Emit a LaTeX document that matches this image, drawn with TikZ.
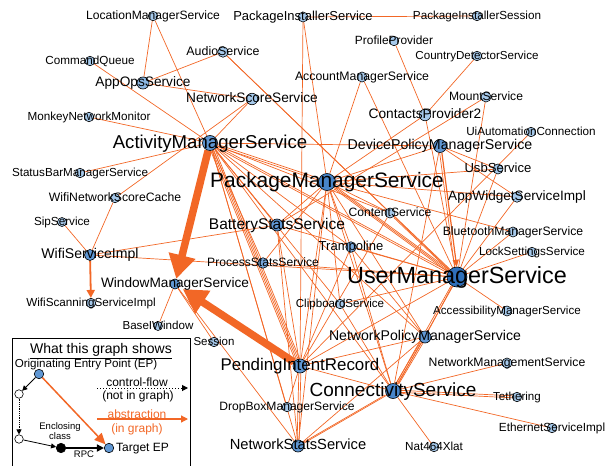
\documentclass[tikz,border=0pt]{standalone}
\usepackage{fontspec}
\setmainfont{Liberation Sans}
\usetikzlibrary{arrows.meta}
\pgfdeclarelayer{bg}
\pgfsetlayers{bg,main}
\definecolor{eorange}{RGB}{242,103,38}
\definecolor{lb}{RGB}{166,201,235}
\definecolor{lb2}{RGB}{140,184,228}
\definecolor{mb2}{RGB}{120,168,220}
\definecolor{mb}{RGB}{96,151,211}
\definecolor{db}{RGB}{72,133,202}
\definecolor{ub}{RGB}{48,112,186}
\tikzset{
  svc/.style={circle, draw=black, line width=0.6pt, fill=lb, minimum size=#1, inner sep=0pt},
  svc/.default=9.5pt,
  lbl/.style={font=\fontsize{#1}{#1}\selectfont, inner sep=0pt, anchor=base, yshift=-0.27*#1pt, text=black},
  lbl/.default=11.7,
  edge/.style={draw=eorange, line width=0.7pt},
  bigarrow/.style={draw=eorange, fill=eorange, line width=7.5pt, -{Triangle[length=24pt,width=26pt]}},
  midarrow/.style={draw=eorange, fill=eorange, line width=1.8pt, -{Triangle[length=8pt,width=8pt]}},
  smallarrow/.style={draw=eorange, fill=eorange, line width=1.2pt, -{Triangle[length=7pt,width=6pt]}},
  blk/.style={draw=black, line width=0.8pt, -{Triangle[length=5pt,width=5pt]}},
}
\begin{document}
\begin{tikzpicture}[x=1pt,y=-1pt]
\useasboundingbox (0,0) rectangle (609,465);
% ---------- service nodes ----------
\node[svc] (loc) at (153,16) {};
\node[svc=10pt] (pis) at (303,17) {};
\node[svc] (piss) at (477,16) {};
\node[svc] (cq) at (90,61) {};
\node[svc=10.5pt] (audio) at (223,52) {};
\node[svc] (prof) at (394,41) {};
\node[svc] (country) at (477,56) {};
\node[svc=12pt, fill=lb2] (appops) at (143,83) {};
\node[svc=10pt] (acct) at (362,77) {};
\node[svc=11.5pt] (nss) at (252,99) {};
\node[svc] (monkey) at (89,117) {};
\node[svc=10pt] (mount) at (486,97) {};
\node[svc=11.5pt] (cp2) at (425,115) {};
\node[svc] (uia) at (531,132) {};
\node[svc=15pt, fill=mb] (ams) at (210,143) {};
\node[svc=13pt, fill=mb] (dpms) at (440,146) {};
\node[svc=17pt, fill=db] (pms) at (327,182) {};
\node[svc] (sbm) at (80,173) {};
\node[svc=10pt] (usb) at (498,169) {};
\node[svc=10pt] (content) at (390,213) {};
\node[svc=10.5pt] (aws) at (517,197) {};
\node[svc] (wnsc) at (115,198) {};
\node[svc=12pt, fill=mb] (bss) at (277,225) {};
\node[svc=9pt] (sip) at (62,222) {};
\node[svc=10pt] (bt) at (513,232) {};
\node[svc=10.5pt, fill=mb2] (tramp) at (351,247) {};
\node[svc] (lock) at (532,252) {};
\node[svc=11pt, fill=mb] (wifi) at (90,255) {};
\node[svc=10.5pt, fill=mb2] (pss) at (263,263) {};
\node[svc=20pt, fill=ub] (ums) at (457,277) {};
\node[svc=10pt, fill=mb] (wms) at (175,284) {};
\node[svc] (wscan) at (91,303) {};
\node[svc] (clip) at (340,304) {};
\node[svc=10pt] (acc) at (507,311) {};
\node[svc=9pt] (biw) at (158,326) {};
\node[svc] (sess) at (214,342) {};
\node[svc=12pt, fill=mb] (npms) at (425,337) {};
\node[svc=14pt, fill=mb] (pir) at (300,366) {};
\node[svc=10pt] (nms) at (507,363) {};
\node[svc=15pt, fill=db] (cs) at (393,391) {};
\node[svc] (teth) at (517,397) {};
\node[svc] (drop) at (287,407) {};
\node[svc] (eth) at (552,428) {};
\node[svc=12pt, fill=mb] (nstats) at (298,446) {};
\node[svc] (nat) at (434,447) {};
% ---------- labels ----------
\node[lbl=12.1] (loc-t) at (loc) {LocationManagerService};
\node[lbl=13] (pis-t) at (pis) {PackageInstallerService};
\node[lbl] (piss-t) at (piss) {PackageInstallerSession};
\node[lbl] (cq-t) at (cq) {CommandQueue};
\node[lbl=12.4] (audio-t) at (audio) {AudioService};
\node[lbl=11.9] (prof-t) at (prof) {ProfileProvider};
\node[lbl=11.6] (country-t) at (country) {CountryDetectorService};
\node[lbl=13.7] (appops-t) at (appops) {AppOpsService};
\node[lbl=12.3] (acct-t) at (acct) {AccountManagerService};
\node[lbl=13.7] (nss-t) at (nss) {NetworkScoreService};
\node[lbl] (monkey-t) at (monkey) {MonkeyNetworkMonitor};
\node[lbl=12.1] (mount-t) at (mount) {MountService};
\node[lbl=13.7] (cp2-t) at (cp2) {ContactsProvider2};
\node[lbl] (uia-t) at (uia) {UiAutomationConnection};
\node[lbl=18.6] (ams-t) at (ams) {ActivityManagerService};
\node[lbl=14.2] (dpms-t) at (dpms) {DevicePolicyManagerService};
\node[lbl=20.9] (pms-t) at (pms) {PackageManagerService};
\node[lbl=11.65] (sbm-t) at (sbm) {StatusBarManagerService};
\node[lbl=13.1] (usb-t) at (usb) {UsbService};
\node[lbl=12.1] (content-t) at (content) {ContentService};
\node[lbl=13.6] (aws-t) at (aws) {AppWidgetServiceImpl};
\node[lbl=12.2] (wnsc-t) at (wnsc) {WifiNetworkScoreCache};
\node[lbl=15.5] (bss-t) at (bss) {BatteryStatsService};
\node[lbl] (sip-t) at (sip) {SipService};
\node[lbl=12.2] (bt-t) at (bt) {BluetoothManagerService};
\node[lbl=13] (tramp-t) at (tramp) {Trampoline};
\node[lbl] (lock-t) at (lock) {LockSettingsService};
\node[lbl=14.1] (wifi-t) at (wifi) {WifiServiceImpl};
\node[lbl=12.1] (pss-t) at (pss) {ProcessStatsService};
\node[lbl=23.4] (ums-t) at (ums) {UserManagerService};
\node[lbl=13.65] (wms-t) at (wms) {WindowManagerService};
\node[lbl] (wscan-t) at (wscan) {WifiScanningServiceImpl};
\node[lbl=11.6] (clip-t) at (clip) {ClipboardService};
\node[lbl=11.6] (acc-t) at (acc) {AccessibilityManagerService};
\node[lbl=11.6] (biw-t) at (biw) {BaseIWindow};
\node[lbl=11.5] (sess-t) at (sess) {Session};
\node[lbl=14.1] (npms-t) at (npms) {NetworkPolicyManagerService};
\node[lbl=16.9] (pir-t) at (pir) {PendingIntentRecord};
\node[lbl=12.2] (nms-t) at (nms) {NetworkManagementService};
\node[lbl=19] (cs-t) at (cs) {ConnectivityService};
\node[lbl=11.6] (teth-t) at (teth) {Tethering};
\node[lbl=12.1] (drop-t) at (drop) {DropBoxManagerService};
\node[lbl=11.8] (eth-t) at (eth) {EthernetServiceImpl};
\node[lbl=14.7] (nstats-t) at (nstats) {NetworkStatsService};
\node[lbl] (nat-t) at (nat) {Nat464Xlat};
% ---------- connectors ----------
\begin{pgfonlayer}{bg}
\foreach \a/\b in {loc/appops, loc/ams, cq/ams, audio/appops, audio/ums, audio/content,
  appops/nss, monkey/ams, nss/ams, sbm/ams, wnsc/nss, wifi/wnsc, sip/wifi, wifi/bss, wifi/ums,
  pis/piss, pis/pms, pis/pir, prof/cp2, country/cp2, acct/pms, acct/ums, mount/ums, mount/bss,
  cp2/pms, cp2/ums, uia/pir, dpms/aws, dpms/usb, dpms/pms, dpms/ams, dpms/cs,
  ams/bss, ams/pss, ams/content, ams/tramp, ams/clip, ams/npms, ams/cs, ams/nstats, ams/drop,
  pms/content, pms/bss, pms/tramp, pms/aws, pms/bt, pms/pir, pms/cs, pms/npms, pms/clip,
  pms/pss, pms/usb, pms/nstats, ums/aws, ums/bt, ums/lock, ums/usb, ums/acc, ums/npms,
  ums/pir, ums/clip, ums/tramp, ums/bss, ums/pss, wms/biw, wms/sess, wms/nstats,
  pir/bss, pir/tramp, pir/npms, pir/cs, pir/drop, pir/content, cs/nms, cs/eth, cs/nat,
  cs/tramp, cs/clip, npms/nstats, npms/tramp, bss/nstats}
  \draw[edge] (\a) -- (\b);
% parallel bundles
\foreach \s in {-2.4,-0.8,0.8,2.4}
  \draw[edge, transform canvas={xshift=\s pt}] (ams) -- (pir);
\foreach \s in {-1,1}{
  \draw[edge, transform canvas={yshift=\s pt}] (ams) -- (pms);
  \draw[edge, transform canvas={yshift=\s pt}] (ams) -- (ums);
  \draw[edge, transform canvas={xshift=\s pt}] (ums) -- (cs);
  \draw[edge, transform canvas={yshift=\s pt}] (ums) -- (content);
  \draw[edge, transform canvas={xshift=\s pt}] (pir) -- (nstats);
  \draw[edge, transform canvas={yshift=\s pt}] (cs) -- (teth);
  \draw[edge, transform canvas={xshift=\s pt}] (cs) -- (nstats);
}
\foreach \s in {-1.6,0,1.6}{
  \draw[edge, transform canvas={yshift=\s pt}] (pms) -- (ums);
  \draw[edge, transform canvas={xshift=\s pt}] (cs) -- (npms);
}
\draw[edge, transform canvas={xshift=-1.2pt}] (dpms) -- (ums);
\draw[smallarrow, transform canvas={xshift=1pt}] (dpms) -- (ums);
\draw[midarrow] (wifi) -- (wscan);
\draw[bigarrow] (ams) -- (wms);
\draw[bigarrow, shorten >=4pt] (pir) -- (wms);
\end{pgfonlayer}
% ---------- legend ----------
\draw[line width=0.8pt] (12,338) rectangle (190,475);
\node[lbl=14] (lg-title) at (101,350) {\underline{What this graph shows}};
\node[lbl=11.6] (lg-orig) at (86,364) {Originating Entry Point (EP)};
\node[svc=9.5pt, fill=mb] (lg-ep) at (39,374) {};
\node[svc=8.5pt, fill=white] (lg-w1) at (19,394) {};
\node[svc=8.5pt, fill=white] (lg-w2) at (19,439) {};
\node[svc=9.5pt, fill=black] (lg-enc) at (61,448) {};
\node[svc=9.5pt, fill=mb] (lg-tgt) at (109,448) {};
\node[lbl=12, anchor=base west] (lg-tgt-t) at (116,448) {Target EP};
\node[font=\fontsize{9.5}{9.5}\selectfont, inner sep=0pt, align=center] (lg-encl) at (60,431) {Enclosing\\class};
\node[lbl=9.5] (lg-rpc) at (84,455) {RPC};
\node[lbl=12] (lg-cf1) at (137,383) {control-flow};
\node[lbl=12] (lg-cf2) at (138,396) {(not in graph)};
\node[lbl=12, text=eorange] (lg-ab1) at (137,415) {abstraction};
\node[lbl=12, text=eorange] (lg-ab2) at (137,429) {(in graph)};
\coordinate (cf-s) at (97,388);
\coordinate (cf-e) at (188,388);
\coordinate (ab-s) at (97,419);
\coordinate (ab-e) at (188,419);
\draw[blk] (lg-ep) -- (lg-w1);
\draw[blk, densely dotted] (lg-w1) -- (lg-w2);
\draw[blk] (lg-w2) -- (lg-enc);
\draw[draw=black, line width=1.6pt, -{Triangle[length=7pt,width=7pt]}] (lg-enc) -- (lg-tgt);
\draw[draw=eorange, line width=1.5pt, -{Triangle[length=11pt,width=10pt]}] (lg-ep) -- (lg-tgt);
\draw[draw=black, line width=1pt, dotted, -{Triangle[length=6pt,width=6pt]}] (cf-s) -- (cf-e);
\draw[draw=eorange, line width=1.2pt, -{Triangle[length=7pt,width=7pt]}] (ab-s) -- (ab-e);
\end{tikzpicture}
\end{document}
